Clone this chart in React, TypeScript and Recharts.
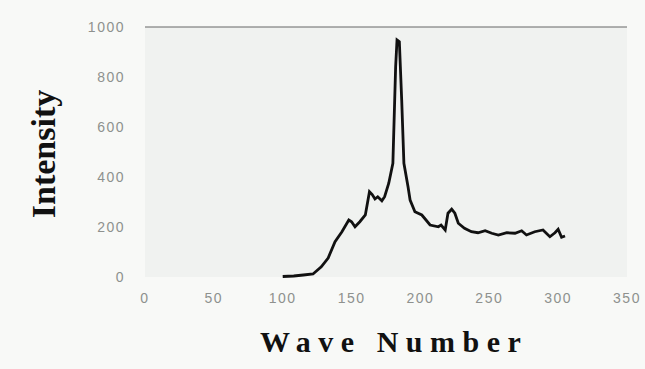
import { CartesianGrid, Line, LineChart, XAxis, YAxis } from 'recharts';

const WAVE_NUMBER = [
  100, 108, 115, 122, 128, 133, 138, 143, 148, 150, 152.5, 156, 160, 163, 165, 167, 169, 172, 174, 177, 180,
  182, 183, 184.7, 186.4, 188, 191, 192.5, 196, 201, 203, 207, 213, 215, 218, 220, 222.7, 225, 227.5,
  232, 237, 241.8, 247, 251.8, 256.6, 262.7, 268.7, 273.5, 277, 283, 289, 294, 297.7, 300, 302.5, 305,
];
const INTENSITY = [
  2, 4, 8, 12, 41, 76, 141, 181, 228, 221, 201, 221, 248, 341, 330, 312, 321, 305, 321, 375, 455,
  841, 948, 941, 708, 455, 361, 308, 261, 248, 235, 208, 201, 208, 188, 255, 271, 255, 215,
  195, 181, 177, 185, 175, 168, 177, 175, 185, 168, 181, 188, 161, 177, 191, 159, 164,
];
const X_TICKS = [0, 50, 100, 150, 200, 250, 300, 350];
const Y_TICKS = [0, 200, 400, 600, 800, 1000];

const data = WAVE_NUMBER.map((x, i) => ({ x, y: INTENSITY[i] }));

const tickStyle = { fontSize: 14, fill: '#8e918e', fontFamily: 'Liberation Sans, Arial, sans-serif', letterSpacing: 1.5 };

export default function App() {
  return (
    <div style={{ position: 'absolute', left: 0, top: 0, width: 645, height: 369, background: '#f8f9f7', overflow: 'hidden' }}>
      <LineChart width={645} height={369} data={data} margin={{ top: 27, right: 18, bottom: 62, left: 0 }}>
        <CartesianGrid horizontal={false} vertical={false} fill="#f0f2f0" />
        <XAxis
          type="number"
          dataKey="x"
          domain={[0, 350]}
          ticks={X_TICKS}
          axisLine={false}
          tickLine={false}
          tickSize={0}
          tickMargin={16}
          height={30}
          tick={tickStyle}
        />
        <YAxis
          type="number"
          domain={[0, 1000]}
          ticks={Y_TICKS}
          axisLine={false}
          tickLine={false}
          tickSize={0}
          tickMargin={20}
          width={145}
          tick={tickStyle}
        />
        <CartesianGrid horizontal horizontalValues={[1000]} vertical={false} stroke="#666" strokeWidth={1} fill="none" />
        <Line
          type="linear"
          dataKey="y"
          stroke="#111"
          strokeWidth={2.8}
          dot={false}
          isAnimationActive={false}
        />
      </LineChart>
      <div
        style={{
          position: 'absolute',
          left: 44,
          top: 154,
          transform: 'translate(-50%, -50%) rotate(-90deg)',
          fontFamily: 'Liberation Serif, Times New Roman, serif',
          fontWeight: 'bold',
          fontSize: 34,
          color: '#111',
          whiteSpace: 'nowrap',
        }}
      >
        Intensity
      </div>
      <div
        style={{
          position: 'absolute',
          left: 260,
          top: 325,
          fontFamily: 'Liberation Serif, Times New Roman, serif',
          fontWeight: 'bold',
          fontSize: 30,
          letterSpacing: 7.5,
          color: '#111',
          whiteSpace: 'nowrap',
        }}
      >
        Wave Number
      </div>
    </div>
  );
}
